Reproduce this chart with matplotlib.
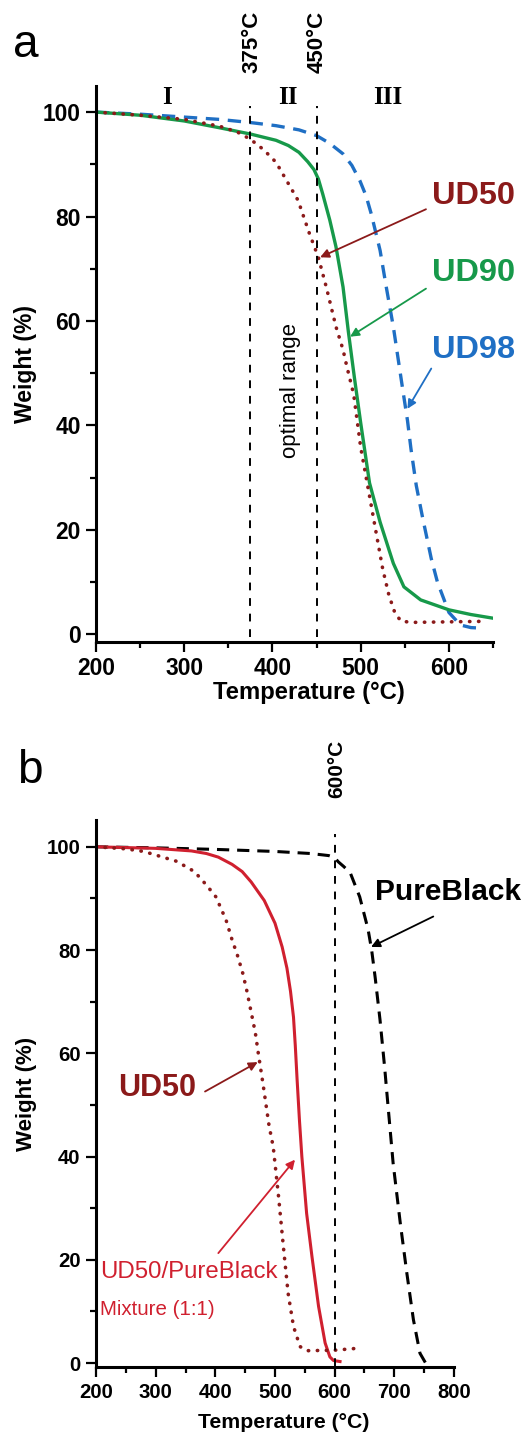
import numpy as np
import matplotlib
matplotlib.use('Agg')
import matplotlib.pyplot as plt

plt.rcParams['font.family'] = ['Liberation Sans', 'DejaVu Sans']

# ---- panel a data ----
ud50_t = [200, 250, 300, 340, 360, 375, 390, 404, 416, 429, 442, 452, 461, 472, 480, 484, 492, 500,
          510, 518, 525, 532, 539, 546, 560, 600, 640]
ud50_w = [100, 99.4, 98.6, 97.3, 96.2, 94.8, 92.8, 90.4, 86.9, 83.1, 76.7, 72.2, 66.5, 58.9, 54.5, 51.5,
          46.0, 35.8, 26.5, 19.0, 12.5, 7.5, 4.0, 2.5, 2.3, 2.4, 2.5]

ud90_t = [200, 250, 300, 340, 375, 404, 418, 430, 440, 447, 452, 457, 465, 472, 480, 486, 493, 500,
          510, 522, 537, 549, 568, 600, 625, 650]
ud90_w = [100, 99.4, 98.3, 97.0, 95.8, 94.6, 93.6, 92.3, 90.5, 89.0, 87.2, 84.3, 79.3, 74.2, 66.5,
          58.0, 49.0, 40.5, 29.0, 21.5, 13.6, 9.1, 6.6, 4.7, 3.8, 3.1]

ud98_t = [200, 250, 295, 340, 375, 404, 430, 450, 465, 480, 490, 499, 506, 512, 522, 529, 537, 544,
          548, 553, 557, 563, 570, 580, 587, 600, 613, 625, 636]
ud98_w = [100, 99.6, 99.1, 98.6, 98.0, 97.4, 96.6, 95.5, 94.0, 92.0, 89.8, 86.9, 84.0, 80.5, 73.5,
          66.5, 58.9, 51.0, 46.5, 41.0, 35.5, 28.5, 22.5, 14.5, 10.0, 4.2, 1.8, 1.3, 1.2]

# ---- panel b data ----
pb_t = [200, 300, 400, 500, 560, 590, 600, 606, 615, 626, 642, 656, 662, 668, 676, 684, 687, 698,
        710, 721, 732, 743, 754]
pb_w = [100, 99.8, 99.5, 99.1, 98.7, 98.3, 97.9, 97.1, 96.2, 95.0, 90.3, 84.0, 80.0, 74.6, 66.5,
        57.0, 53.0, 38.7, 27.1, 17.4, 8.4, 1.9, -0.3]

mix_t = [200, 300, 360, 385, 405, 428, 445, 460, 482, 500, 512, 520, 526, 531, 534, 537, 541, 545,
         553, 562, 573, 584, 592, 598, 609]
mix_w = [100, 99.7, 99.2, 98.7, 98.0, 96.6, 95.2, 93.2, 89.6, 85.2, 80.6, 76.5, 72.0, 67.0, 61.5,
         55.0, 47.0, 40.0, 29.0, 20.6, 11.0, 3.9, 1.2, 0.5, 0.3]

ud50b_t = [200, 250, 280, 335, 365, 385, 401, 418, 428, 437, 446, 453, 460, 467, 472, 480, 490, 497,
           506, 514, 522, 531, 542, 553, 600, 642]
ud50b_w = [100, 99.6, 99.1, 97.2, 95.2, 92.6, 90.3, 85.8, 82.0, 79.0, 75.5, 72.0, 68.0, 64.0, 60.0,
           54.0, 46.0, 41.9, 32.2, 22.6, 13.5, 7.1, 3.2, 2.4, 2.5, 2.9]

c50 = '#8b1a1a'
c90 = '#17994a'
c98 = '#1f6fc4'
cmix = '#d0202f'


def style_axes(ax, size):
    for s in ['top', 'right']:
        ax.spines[s].set_visible(False)
    for s in ['left', 'bottom']:
        ax.spines[s].set_linewidth(2.2)
    ax.tick_params(which='major', direction='out', length=7, width=1.6,
                   labelsize=size, pad=4)
    ax.tick_params(which='minor', direction='out', length=4, width=1.6)
    for lab in ax.get_xticklabels() + ax.get_yticklabels():
        lab.set_fontweight('bold')


fig = plt.figure(figsize=(5.29, 14.33), dpi=100)
ax1 = fig.add_axes([0.1815, 0.5522, 0.7505, 0.3878])
ax2 = fig.add_axes([0.1815, 0.0459, 0.6767, 0.3819])

dot = dict(linestyle=(0, (0.1, 2.4)), dash_capstyle='round', lw=2.6)
arr = dict(arrowstyle='-|>', lw=1.3, mutation_scale=13, shrinkA=0, shrinkB=0)

# ---- panel a ----
ax1.plot(ud98_t, ud98_w, color=c98, lw=2.4, linestyle=(0, (4, 2.6)))
ax1.plot(ud90_t, ud90_w, color=c90, lw=2.4)
ax1.plot(ud50_t, ud50_w, color=c50, **dot)
ax1.plot([375, 375], [-0.5, 101.2], color='black', lw=1.4, linestyle=(0, (4, 4)))
ax1.plot([450, 450], [-0.5, 101.2], color='black', lw=1.4, linestyle=(0, (4, 4)))
ax1.set_xlim(200, 650)
ax1.set_ylim(-1.4, 105)
ax1.set_xticks([200, 300, 400, 500, 600])
ax1.set_xticks([250, 350, 450, 550, 650], minor=True)
ax1.set_yticks([0, 20, 40, 60, 80, 100])
ax1.set_yticks([10, 30, 50, 70, 90], minor=True)
style_axes(ax1, 16.4)
ax1.set_xlabel('Temperature (°C)', fontsize=17.2, fontweight='bold')
ax1.set_ylabel('Weight (%)', fontsize=16.5, fontweight='bold')
ax1.xaxis.set_label_coords(0.537, -0.071)
ax1.yaxis.set_label_coords(-0.149, 0.5)

ax1.text(377, 107.4, '375°C', rotation=90, ha='center', va='bottom',
         fontsize=16, fontweight='bold', clip_on=False)
ax1.text(450.5, 107.4, '450°C', rotation=90, ha='center', va='bottom',
         fontsize=16, fontweight='bold', clip_on=False)
for lab, x in [('I', 281), ('II', 418), ('III', 531)]:
    ax1.text(x, 102.8, lab, ha='center', va='center', fontsize=18,
             fontweight='bold', family='Liberation Serif')
ax1.text(420, 46.6, 'optimal range', rotation=90, ha='center', va='center',
         fontsize=16)

ax1.text(581, 83.9, 'UD50', color=c50, fontsize=23.4, fontweight='bold', va='center')
ax1.text(581, 69.1, 'UD90', color=c90, fontsize=23.4, fontweight='bold', va='center')
ax1.text(581, 54.5, 'UD98', color=c98, fontsize=23.4, fontweight='bold', va='center')
ax1.annotate('', xy=(454, 72.2), xytext=(574, 81.4), arrowprops=dict(color=c50, **arr))
ax1.annotate('', xy=(488, 57.0), xytext=(574, 66.2), arrowprops=dict(color=c90, **arr))
ax1.annotate('', xy=(553, 43.2), xytext=(580, 50.9), arrowprops=dict(color=c98, **arr))

# ---- panel b ----
ax2.plot(pb_t, pb_w, color='black', lw=2.2, linestyle=(0, (4, 2.6)))
ax2.plot(mix_t, mix_w, color=cmix, lw=2.2)
ax2.plot(ud50b_t, ud50b_w, color=c50, **dot)
ax2.plot([600, 600], [-0.5, 102.4], color='black', lw=1.4, linestyle=(0, (4, 4)))
ax2.set_xlim(200, 800)
ax2.set_ylim(-0.8, 105.2)
ax2.set_xticks([200, 300, 400, 500, 600, 700, 800])
ax2.set_xticks([250, 350, 450, 550, 650, 750], minor=True)
ax2.set_yticks([0, 20, 40, 60, 80, 100])
ax2.set_yticks([10, 30, 50, 70, 90], minor=True)
style_axes(ax2, 14.7)
ax2.set_xlabel('Temperature (°C)', fontsize=15.3, fontweight='bold')
ax2.set_ylabel('Weight (%)', fontsize=16, fontweight='bold')
ax2.xaxis.set_label_coords(0.525, -0.084)
ax2.yaxis.set_label_coords(-0.166, 0.5)

ax2.text(603, 109.4, '600°C', rotation=90, ha='center', va='bottom',
         fontsize=15, fontweight='bold', clip_on=False)
ax2.text(667.6, 91.2, 'PureBlack', fontsize=21.5, fontweight='bold', va='center',
         clip_on=False)
ax2.annotate('', xy=(661, 80.6), xytext=(765.3, 86.5), arrowprops=dict(color='black', **arr))
ax2.text(237.4, 53.3, 'UD50', color=c50, fontsize=22, fontweight='bold', va='center')
ax2.annotate('', xy=(471, 58.3), xytext=(382.7, 52.6), arrowprops=dict(color=c50, **arr))
ax2.text(206.7, 17.7, 'UD50/PureBlack', color=cmix, fontsize=17.3, va='center')
ax2.text(206.7, 10.3, 'Mixture (1:1)', color=cmix, fontsize=14.8, va='center')
ax2.annotate('', xy=(533.5, 39.4), xytext=(405, 21.3), arrowprops=dict(color=cmix, **arr))

fig.text(0.025, 0.960, 'a', fontsize=33, va='baseline')
fig.text(0.032, 0.4536, 'b', fontsize=33, va='baseline')

fig.savefig('out.png', dpi=100)
